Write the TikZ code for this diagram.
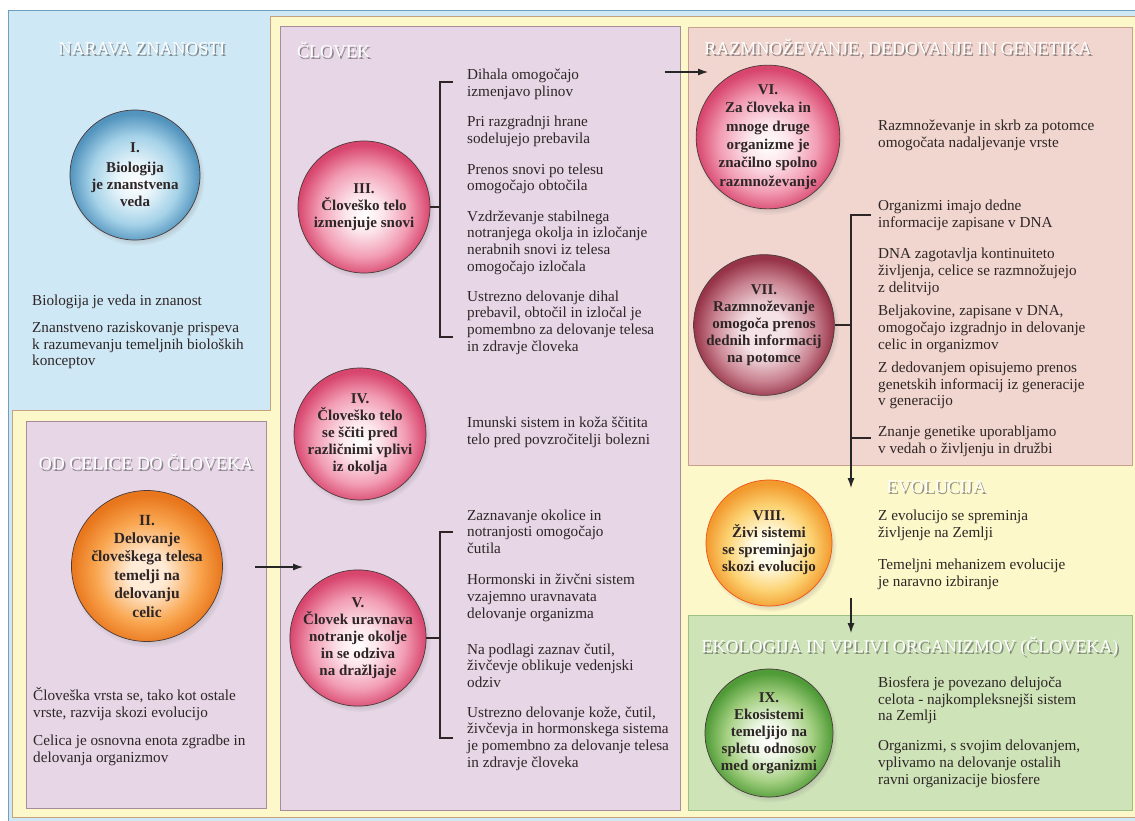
\documentclass[tikz,border=0pt]{standalone}
\usepackage{fontspec}
\setmainfont{Liberation Serif}
\usetikzlibrary{arrows.meta,shadows,fadings}

\definecolor{skyback}{HTML}{CFE8F5}
\definecolor{skyline}{HTML}{6F9EBF}
\definecolor{sandback}{HTML}{FCF8C9}
\definecolor{sandline}{HTML}{C8A27F}
\definecolor{lilacback}{HTML}{E6D6E6}
\definecolor{lilacline}{HTML}{A88C9C}
\definecolor{roseback}{HTML}{F1D5CF}
\definecolor{roseline}{HTML}{C9A08F}
\definecolor{leafback}{HTML}{CEE3B8}
\definecolor{leafline}{HTML}{9CBF86}
\definecolor{inktext}{HTML}{2E2626}
\definecolor{ballrim}{HTML}{4A3A3A}

\definecolor{blueA}{HTML}{E8F5FB}
\definecolor{blueB}{HTML}{A5D2E8}
\definecolor{blueC}{HTML}{5394BE}
\definecolor{pinkA}{HTML}{FCE6EC}
\definecolor{pinkB}{HTML}{F29DB4}
\definecolor{pinkC}{HTML}{D8466E}
\definecolor{mauveA}{HTML}{F5E2E6}
\definecolor{mauveB}{HTML}{C98391}
\definecolor{mauveC}{HTML}{983449}
\definecolor{orangeA}{HTML}{FFEBD6}
\definecolor{orangeB}{HTML}{F9A650}
\definecolor{orangeC}{HTML}{E8761C}
\definecolor{amberA}{HTML}{FFFBE2}
\definecolor{amberB}{HTML}{FCD272}
\definecolor{amberC}{HTML}{F29A2E}
\definecolor{greenA}{HTML}{EEF7E6}
\definecolor{greenB}{HTML}{A3CF80}
\definecolor{greenC}{HTML}{4F9B37}

% balls: light spot a little below the middle
\pgfdeclareradialshading{ballblue}{\pgfpoint{0bp}{-3bp}}{color(0bp)=(white); color(7bp)=(blueA); color(17bp)=(blueB); color(25bp)=(blueC); color(50bp)=(blueC)}
\pgfdeclareradialshading{ballpink}{\pgfpoint{0bp}{-3bp}}{color(0bp)=(white); color(7bp)=(pinkA); color(17bp)=(pinkB); color(25bp)=(pinkC); color(50bp)=(pinkC)}
\pgfdeclareradialshading{ballmauve}{\pgfpoint{0bp}{-3bp}}{color(0bp)=(mauveA); color(8bp)=(mauveA); color(18bp)=(mauveB); color(25bp)=(mauveC); color(50bp)=(mauveC)}
\pgfdeclareradialshading{ballorange}{\pgfpoint{0bp}{-3bp}}{color(0bp)=(orangeA); color(6bp)=(orangeA); color(17bp)=(orangeB); color(25bp)=(orangeC); color(50bp)=(orangeC)}
\pgfdeclareradialshading{ballamber}{\pgfpoint{0bp}{-3bp}}{color(0bp)=(white); color(7bp)=(amberA); color(17bp)=(amberB); color(25bp)=(amberC); color(50bp)=(amberC)}
\pgfdeclareradialshading{ballgreen}{\pgfpoint{0bp}{-3bp}}{color(0bp)=(white); color(7bp)=(greenA); color(17bp)=(greenB); color(25bp)=(greenC); color(50bp)=(greenC)}

\newcommand{\itemfont}{\fontsize{15.2}{16.7}\selectfont}
\newcommand{\ballfont}{\fontsize{15}{17}\selectfont\bfseries}
\newcommand{\headfont}{\fontsize{18}{20}\selectfont}

\tikzset{
  >={Latex[length=10pt,width=7pt]},
  ball/.style={circle, draw=ballrim, line width=0.7pt, shading=#1, align=center,
    font=\ballfont, text=inktext, inner sep=0pt,
    circular drop shadow={shadow xshift=2pt, shadow yshift=-3pt, shadow scale=1.04, opacity=0.45}},
  note/.style={anchor=west, align=left, inner sep=0pt, font=\itemfont, text=inktext},
  head/.style={font=\headfont, text=white, inner sep=0pt},
  headshade/.style={font=\headfont, text=black!75, text opacity=0.55, inner sep=0pt},
  bracket/.style={draw=inktext, line width=1.1pt},
  flow/.style={->, draw=black!85, line width=1.1pt}
}
% white heading with a dark shadow
\newcommand{\paneltitle}[4]{%
  \node[headshade,anchor=#3,xshift=1.5pt,yshift=-1.8pt] (#1s) at #2 {#4};
  \node[head,anchor=#3] (#1) at #2 {#4};}

\begin{document}
\begin{tikzpicture}[x=1pt,y=-1pt]
  \useasboundingbox (0,0) rectangle (1135,820);
  \clip (0,0) rectangle (1135,820);
  % panels
  \fill[white] (0,0) rectangle (1135,820);
  \draw[skyline,fill=skyback,line width=0.8pt] (8,10) rectangle (1145,830);
  \draw[sandline,fill=sandback,line width=0.8pt] (270,16) -- (1145,16) -- (1145,817) -- (12,817) -- (12,410) -- (270,410) -- cycle;
  \draw[lilacline,fill=lilacback,line width=0.8pt] (280,26) rectangle (680,810);
  \draw[lilacline,fill=lilacback,line width=0.8pt] (26,421) rectangle (266,808);
  \draw[roseline,fill=roseback,line width=0.8pt] (688,27) rectangle (1132,465);
  \draw[leafline,fill=leafback,line width=0.8pt] (688,615) rectangle (1132,810);

  % titles
  \paneltitle{tNarava}{(142,49)}{center}{NARAVA ZNANOSTI}
  \paneltitle{tCelica}{(146,462)}{center}{OD CELICE DO ČLOVEKA}
  \paneltitle{tClovek}{(297,50)}{west}{ČLOVEK}
  \paneltitle{tGenetika}{(898,48)}{center}{RAZMNOŽEVANJE, DEDOVANJE IN GENETIKA}
  \paneltitle{tEvolucija}{(936,487)}{center}{EVOLUCIJA}
  \paneltitle{tEkologija}{(910,647)}{center}{EKOLOGIJA IN VPLIVI ORGANIZMOV (ČLOVEKA)}

  % balls
  \node[ball=ballblue, minimum size=130pt] (c1) at (135,175) {I.\\[3pt]Biologija\\je znanstvena\\veda};
  \node[ball=ballorange, minimum size=128pt, font=\fontsize{15.5}{18.4}\selectfont\bfseries] (c2) at (147,566) {II.\\Delovanje\\človeškega telesa\\temelji na\\delovanju\\celic};
  \node[ball=ballpink, minimum size=132pt] (c3) at (364,207) {III.\\Človeško telo\\izmenjuje snovi};
  \node[ball=ballpink, minimum size=132pt] (c4) at (360,434) {IV.\\Človeško telo\\se ščiti pred\\različnimi vplivi\\iz okolja};
  \node[ball=ballpink, minimum size=132pt] (c5) at (358,638) {V.\\Človek uravnava\\notranje okolje\\in se odziva\\na dražljaje};
  \node[ball=ballpink, minimum size=142pt, font=\fontsize{15}{18.4}\selectfont\bfseries] (c6) at (768,137) {VI.\\Za človeka in\\mnoge druge\\organizme je\\značilno spolno\\razmnoževanje};
  \node[ball=ballmauve, minimum size=136pt] (c7) at (764,325) {VII.\\Razmnoževanje\\omogoča prenos\\dednih informacij\\na potomce};
  \node[ball=ballamber, draw=orangeC!70!red, minimum size=126pt] (c8) at (769,543) {VIII.\\Živi sistemi\\se spreminjajo\\skozi evolucijo};
  \node[ball=ballgreen, minimum size=128pt] (c9) at (769,733) {IX.\\Ekosistemi\\temeljijo na\\spletu odnosov\\med organizmi};

  % notes
  \node[note] (n1a) at (32,302) {Biologija je veda in znanost};
  \node[note] (n1b) at (32,345.5) {Znanstveno raziskovanje prispeva\\k razumevanju temeljnih bioloških\\konceptov};
  \node[note] (n2a) at (33,704) {Človeška vrsta se, tako kot ostale\\vrste, razvija skozi evolucijo};
  \node[note] (n2b) at (33,750.5) {Celica je osnovna enota zgradbe in\\delovanja organizmov};
  \node[note] (n3a) at (467,84) {Dihala omogočajo\\izmenjavo plinov};
  \node[note] (n3b) at (467,131) {Pri razgradnji hrane\\sodelujejo prebavila};
  \node[note] (n3c) at (467,179) {Prenos snovi po telesu\\omogočajo obtočila};
  \node[note] (n3d) at (467,242.5) {Vzdrževanje stabilnega\\notranjega okolja in izločanje\\nerabnih snovi iz telesa\\omogočajo izločala};
  \node[note] (n3e) at (467,322.5) {Ustrezno delovanje dihal\\prebavil, obtočil in izločal je\\pomembno za delovanje telesa\\in zdravje človeka};
  \node[note] (n4a) at (467,432) {Imunski sistem in koža ščitita\\telo pred povzročitelji bolezni};
  \node[note] (n5a) at (467,531.5) {Zaznavanje okolice in\\notranjosti omogočajo\\čutila};
  \node[note] (n5b) at (467,598) {Hormonski in živčni sistem\\vzajemno uravnavata\\delovanje organizma};
  \node[note] (n5c) at (467,665.5) {Na podlagi zaznav čutil,\\živčevje oblikuje vedenjski\\odziv};
  \node[note] (n5d) at (467,738.5) {Ustrezno delovanje kože, čutil,\\živčevja in hormonskega sistema\\je pomembno za delovanje telesa\\in zdravje človeka};
  \node[note] (n6a) at (878,135.5) {Razmnoževanje in skrb za potomce\\omogočata nadaljevanje vrste};
  \node[note] (n7a) at (878,215.5) {Organizmi imajo dedne\\informacije zapisane v DNA};
  \node[note] (n7b) at (878,272) {DNA zagotavlja kontinuiteto\\življenja, celice se razmnožujejo\\z delitvijo};
  \node[note] (n7c) at (878,329) {Beljakovine, zapisane v DNA,\\omogočajo izgradnjo in delovanje\\celic in organizmov};
  \node[note] (n7d) at (878,385.5) {Z dedovanjem opisujemo prenos\\genetskih informacij iz generacije\\v generacijo};
  \node[note] (n7e) at (878,441) {Znanje genetike uporabljamo\\v vedah o življenju in družbi};
  \node[note] (n8a) at (878,525.5) {Z evolucijo se spreminja\\življenje na Zemlji};
  \node[note] (n8b) at (878,574) {Temeljni mehanizem evolucije\\je naravno izbiranje};
  \node[note] (n9a) at (878,700.5) {Biosfera je povezano delujoča\\celota - najkompleksnejši sistem\\na Zemlji};
  \node[note] (n9b) at (878,764) {Organizmi, s svojim delovanjem,\\vplivamo na delovanje ostalih\\ravni organizacije biosfere};

  % brackets
  \coordinate (s3a) at (440,82);
  \coordinate (s3b) at (440,337);
  \draw[bracket] (s3a) ++(13,0) -- (s3a) -- (s3b) -- ++(13,0);
  \draw[bracket] (c3) -- (c3 -| s3a);
  \coordinate (s5a) at (440,532);
  \coordinate (s5b) at (440,738);
  \draw[bracket] (s5a) ++(13,0) -- (s5a) -- (s5b) -- ++(13,0);
  \draw[bracket] (c5) -- (c5 -| s5a);
  \coordinate (s7a) at (851,215);
  \coordinate (s7b) at (851,438);
  \draw[bracket] (s7a) ++(20,0) -- (s7a) -- (s7b) -- ++(20,0);
  \draw[bracket] (c7) -- (c7 -| s7a);

  % arrows
  \coordinate (a2) at (255,567);
  \coordinate (a5) at (303,567);
  \draw[flow] (a2) -- (a5);
  \coordinate (a3) at (665,72);
  \coordinate (a6) at (708,72);
  \draw[flow] (a3) -- (a6);
  \coordinate (a8) at (851,488);
  \draw[flow] (s7b) -- (a8);
  \coordinate (a8b) at (851,598);
  \coordinate (a9) at (851,633);
  \draw[flow] (a8b) -- (a9);
\end{tikzpicture}
\end{document}
